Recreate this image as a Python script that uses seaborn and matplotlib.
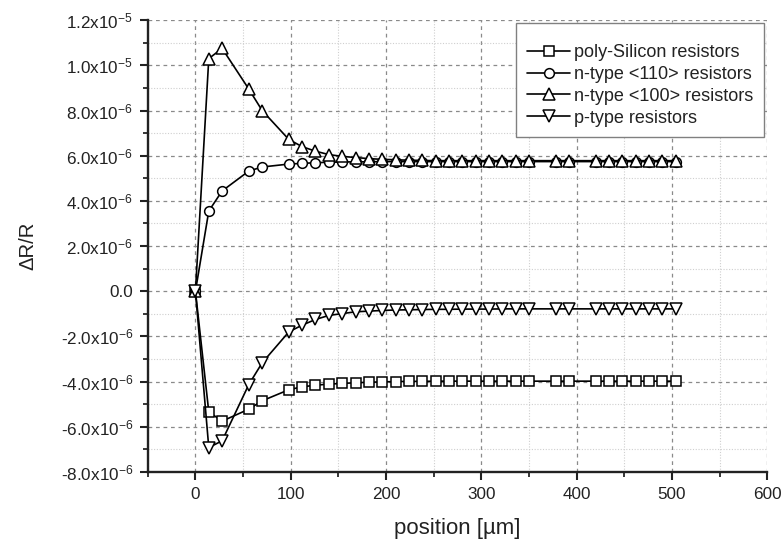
import numpy as np
import pandas as pd
import matplotlib
matplotlib.use("Agg")
import matplotlib.pyplot as plt
import seaborn as sns
from matplotlib.ticker import MultipleLocator, FuncFormatter

# positions along the beam [um]
position = [0, 14, 28, 56, 70, 98, 112, 126, 140, 154, 168, 182, 196, 210, 224, 238,
            252, 266, 280, 294, 308, 322, 336, 350, 378, 392, 420, 434, 448, 462, 476, 490, 504]

# dR/R values in units of 1e-6
poly_si = [0.0, -5.34, -5.75, -5.22, -4.85, -4.36, -4.23, -4.16, -4.11, -4.08, -4.05, -4.03,
           -4.01, -4.00, -3.99, -3.99, -3.98, -3.98, -3.98, -3.98, -3.98, -3.98, -3.98, -3.98,
           -3.98, -3.98, -3.98, -3.98, -3.98, -3.98, -3.98, -3.98, -3.98]
n_110 = [0.0, 3.55, 4.44, 5.32, 5.50, 5.63, 5.66, 5.69, 5.71, 5.72, 5.73, 5.73,
         5.74, 5.74, 5.74, 5.74, 5.74, 5.74, 5.74, 5.74, 5.74, 5.74, 5.74, 5.74,
         5.74, 5.74, 5.74, 5.74, 5.74, 5.74, 5.74, 5.74, 5.74]
n_100 = [0.0, 10.30, 10.75, 8.95, 8.00, 6.72, 6.40, 6.20, 6.05, 5.97, 5.92, 5.87,
         5.84, 5.82, 5.80, 5.79, 5.78, 5.78, 5.78, 5.78, 5.78, 5.78, 5.78, 5.78,
         5.78, 5.78, 5.78, 5.78, 5.78, 5.78, 5.78, 5.78, 5.78]
p_type = [0.0, -6.92, -6.62, -4.13, -3.17, -1.80, -1.50, -1.25, -1.07, -0.99, -0.91, -0.88,
          -0.85, -0.83, -0.82, -0.81, -0.80, -0.80, -0.79, -0.79, -0.79, -0.78, -0.78, -0.78,
          -0.78, -0.78, -0.78, -0.78, -0.78, -0.78, -0.78, -0.78, -0.78]

labels = ["poly-Silicon resistors", "n-type <110> resistors",
          "n-type <100> resistors", "p-type resistors"]
markers = ["s", "o", "^", "v"]
msizes = [6.5, 7, 8, 8]

sns.set_style("ticks")
plt.rcParams["font.family"] = ["Liberation Sans", "DejaVu Sans"]
plt.rcParams["mathtext.fontset"] = "custom"
plt.rcParams["mathtext.rm"] = "Liberation Sans"
plt.rcParams["mathtext.it"] = "Liberation Sans:italic"

fig = plt.figure(figsize=(7.82, 5.45), dpi=100)
ax = fig.add_axes([0.189, 0.134, 0.792, 0.829])

for lab, ys, m, ms in zip(labels, [poly_si, n_110, n_100, p_type], markers, msizes):
    df = pd.DataFrame({"position": position, "dRR": np.array(ys) * 1e-6})
    sns.lineplot(data=df, x="position", y="dRR", ax=ax, color="black", lw=1.2,
                 marker=m, markersize=ms, markerfacecolor="white",
                 markeredgecolor="black", markeredgewidth=1.1,
                 label=lab, estimator=None, sort=False)

ax.set_xlim(-50, 600)
ax.set_ylim(-8e-6, 1.2e-5)
ax.xaxis.set_major_locator(MultipleLocator(100))
ax.xaxis.set_minor_locator(MultipleLocator(50))
ax.yaxis.set_major_locator(MultipleLocator(2e-6))
ax.yaxis.set_minor_locator(MultipleLocator(1e-6))


def sci_fmt(v, pos):
    if abs(v) < 1e-12:
        return "0.0"
    e = int(np.floor(np.log10(abs(v)) + 1e-9))
    return f"{v / 10**e:.1f}x10$^{{{e}}}$"


ax.yaxis.set_major_formatter(FuncFormatter(sci_fmt))

ax.grid(which="major", color="#8a8a8a", linestyle=(0, (3, 3)), linewidth=0.9)
ax.grid(which="minor", color="#cfcfcf", linestyle=(0, (1, 1.5)), linewidth=0.8)
ax.set_axisbelow(True)

sns.despine(ax=ax)
for s in ["left", "bottom"]:
    ax.spines[s].set_linewidth(1.7)
    ax.spines[s].set_color("#222222")
ax.tick_params(which="major", length=6, width=1.5, direction="out", labelsize=12.3,
               colors="#222222", pad=4.5)
ax.tick_params(which="minor", length=3.5, width=1.3, direction="out")

ax.set_xlabel("position [µm]", fontsize=16, labelpad=12, color="#222222")
ax.set_ylabel("ΔR/R", fontsize=14.6, labelpad=17, color="#222222")

leg = ax.legend(loc="upper right", bbox_to_anchor=(0.995, 0.993), borderaxespad=0,
                fontsize=13, handlelength=2.4, handletextpad=0.2, labelspacing=0.27,
                fancybox=False, framealpha=1, edgecolor="#808080",
                borderpad=0.6, title=" ", title_fontsize=4)
leg.get_frame().set_linewidth(1.0)
for t in leg.get_texts():
    t.set_color("#222222")

fig.savefig("out.png", dpi=100)
